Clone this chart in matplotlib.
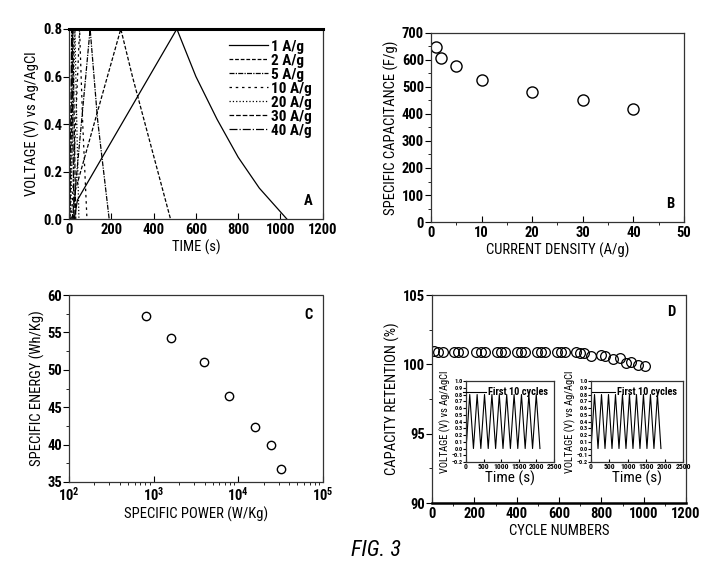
import numpy as np
import matplotlib
matplotlib.use("Agg")
import matplotlib.pyplot as plt

plt.rcParams['font.family'] = ['Roboto Condensed', 'DejaVu Sans']
plt.rcParams['font.weight'] = 'bold'
plt.rcParams['font.size'] = 10.5

# ---- panel A: charge/discharge curves ----
rates = ['1 A/g', '2 A/g', '5 A/g', '10 A/g', '20 A/g', '30 A/g', '40 A/g']
time_a = [
    [25, 40, 510, 600, 700, 800, 900, 1030],
    [20, 30, 245, 300, 360, 420, 480],
    [15, 25, 100, 135, 190],
    [10, 15, 50, 65, 85],
    [6, 9, 28, 37, 47],
    [4, 6, 18, 25, 32],
    [2, 4, 13, 18, 24],
]
volt_a = [
    [0.0, 0.08, 0.8, 0.6, 0.42, 0.26, 0.13, 0.0],
    [0.0, 0.12, 0.8, 0.6, 0.4, 0.2, 0.0],
    [0.0, 0.08, 0.8, 0.42, 0.0],
    [0.0, 0.05, 0.8, 0.4, 0.0],
    [0.0, 0.05, 0.8, 0.4, 0.0],
    [0.0, 0.05, 0.8, 0.4, 0.0],
    [0.0, 0.05, 0.8, 0.4, 0.0],
]
styles_a = ['-', (0, (3, 1.5)), (0, (4, 1, 1, 1)), (0, (2, 3)), ':', '--', '-.']

# ---- panel B: capacitance vs current density ----
current_density = [1, 2, 5, 10, 20, 30, 40]
capacitance = [647, 607, 576, 527, 482, 450, 417]

# ---- panel C: Ragone plot ----
spec_power = [807, 1607, 3908, 7870, 15800, 24300, 32100]
spec_energy = [57.2, 54.2, 51.1, 46.5, 42.4, 39.9, 36.8]

# ---- panel D: cycling ----
cycles = [10, 30, 50, 105, 125, 145, 210, 230, 250, 305, 325, 345,
          400, 420, 440, 495, 515, 535, 590, 610, 630, 680, 700, 720,
          750, 800, 815, 855, 890, 915, 940, 975, 1005]
retention = [100.95, 100.9, 100.9, 100.9, 100.9, 100.9, 100.9, 100.9, 100.9,
             100.9, 100.9, 100.9, 100.9, 100.9, 100.9, 100.9, 100.9, 100.9,
             100.9, 100.9, 100.9, 100.9, 100.85, 100.8,
             100.6, 100.7, 100.6, 100.4, 100.45, 100.1, 100.15, 99.95, 99.9]

inset1_t = [0, 105, 210, 315, 420, 525, 630, 735, 840, 945, 1050,
            1155, 1260, 1365, 1470, 1575, 1680, 1785, 1890, 1995, 2100]
inset1_v = [0.0, 0.8, 0.0, 0.8, 0.0, 0.8, 0.0, 0.8, 0.0, 0.8, 0.0,
            0.8, 0.0, 0.8, 0.0, 0.8, 0.0, 0.8, 0.0, 0.8, 0.0]
inset2_t = [0, 95, 190, 285, 380, 475, 570, 665, 760, 855, 950,
            1045, 1140, 1235, 1330, 1425, 1520, 1615, 1710, 1805, 1900]
inset2_v = [0.0, 0.8, 0.0, 0.8, 0.0, 0.8, 0.0, 0.8, 0.0, 0.8, 0.0,
            0.8, 0.0, 0.8, 0.0, 0.8, 0.0, 0.8, 0.0, 0.8, 0.0]


def frame(ax):
    for s in ax.spines.values():
        s.set_linewidth(0.9)
        s.set_linestyle((0, (2, 1)))
        s.set_color('#333333')
    ax.tick_params(axis='x', direction='in', length=4, width=0.8, pad=3)
    ax.tick_params(axis='y', direction='out', length=4, width=0.8, pad=1)
    ax.tick_params(which='minor', length=2.5, width=0.6)


fig = plt.figure(figsize=(7.17, 5.87), dpi=100)

# A
ax = fig.add_axes([0.0962, 0.6269, 0.354, 0.3237])
for t, v, lab, ls in zip(time_a, volt_a, rates, styles_a):
    ax.plot(t, v, color='black', lw=0.9, ls=ls, label=lab)
frame(ax)
ax.spines['top'].set_linestyle('-')
ax.spines['top'].set_linewidth(2.2)
ax.spines['top'].set_color('black')
ax.set_xlim(0, 1200)
ax.set_ylim(0, 0.8)
ax.set_xticks([0, 200, 400, 600, 800, 1000, 1200])
ax.set_yticks([0.0, 0.2, 0.4, 0.6, 0.8])
ax.set_yticklabels(['0.0', '0.2', '0.4', '0.6', '0.8'])
ax.set_xlabel('TIME (s)', labelpad=2)
ax.set_ylabel('VOLTAGE (V) vs Ag/AgCl', labelpad=2)
ax.legend(loc='upper right', frameon=False, handlelength=2.6, labelspacing=0.0,
          handletextpad=0.2, borderaxespad=0.3, fontsize=11)
ax.text(0.96, 0.06, 'A', transform=ax.transAxes, ha='right', va='bottom')

# B
ax = fig.add_axes([0.601, 0.6218, 0.353, 0.322])
ax.plot(current_density, capacitance, 'o', mfc='none', mec='black', mew=1.0, ms=8)
frame(ax)
ax.set_xlim(0, 50)
ax.set_ylim(0, 700)
ax.set_xticks(range(0, 51, 10))
ax.set_xticks(range(5, 50, 10), minor=True)
ax.set_yticks(range(0, 701, 100))
ax.set_yticks(range(50, 700, 100), minor=True)
ax.set_xlabel('CURRENT DENSITY (A/g)', labelpad=2)
ax.set_ylabel('SPECIFIC CAPACITANCE (F/g)', labelpad=2)
ax.text(0.96, 0.06, 'B', transform=ax.transAxes, ha='right', va='bottom')

# C
ax = fig.add_axes([0.0962, 0.1789, 0.354, 0.3185])
ax.plot(spec_power, spec_energy, 'o', mfc='none', mec='black', mew=1.0, ms=6)
frame(ax)
ax.set_xscale('log')
ax.set_xlim(1e2, 1e5)
ax.set_ylim(35, 60)
ax.set_yticks([35, 40, 45, 50, 55, 60])
ax.set_yticks([37.5, 42.5, 47.5, 52.5, 57.5], minor=True)
ax.set_xlabel('SPECIFIC POWER (W/Kg)', labelpad=2)
ax.set_ylabel('SPECIFIC ENERGY (Wh/Kg)', labelpad=2)
ax.text(0.96, 0.93, 'C', transform=ax.transAxes, ha='right', va='top')

# D
ax = fig.add_axes([0.6025, 0.1431, 0.3543, 0.3543])
ax.plot(cycles, retention, 'o', mfc='none', mec='black', mew=0.9, ms=7)
frame(ax)
ax.spines['bottom'].set_linestyle('-')
ax.spines['bottom'].set_linewidth(1.8)
ax.spines['bottom'].set_color('black')
ax.set_xlim(0, 1200)
ax.set_ylim(90, 105)
ax.set_xticks(range(0, 1201, 200))
ax.set_xticks(range(100, 1200, 200), minor=True)
ax.set_yticks([90, 95, 100, 105])
ax.set_yticks([92.5, 97.5, 102.5], minor=True)
ax.set_xlabel('CYCLE NUMBERS', labelpad=2)
ax.set_ylabel('CAPACITY RETENTION (%)', labelpad=2)
ax.text(0.96, 0.95, 'D', transform=ax.transAxes, ha='right', va='top')

for rect, t, v in [([0.650, 0.2129, 0.1227, 0.138], inset1_t, inset1_v),
                   ([0.8243, 0.2129, 0.1283, 0.138], inset2_t, inset2_v)]:
    ins = fig.add_axes(rect)
    ins.plot(t, v, color='black', lw=0.8, label='First 10 cycles')
    frame(ins)
    ins.set_xlim(0, 2500)
    ins.set_ylim(-0.2, 1.0)
    ins.set_xticks([0, 500, 1000, 1500, 2000, 2500])
    ins.set_yticks([-0.2, -0.1, 0.0, 0.1, 0.2, 0.3, 0.4, 0.5, 0.6, 0.7, 0.8, 0.9, 1.0])
    ins.tick_params(axis='x', labelsize=5.5, length=2, pad=1)
    ins.tick_params(axis='y', labelsize=4.5, length=2, pad=0.5)
    ins.set_xlabel('Time (s)', fontsize=11, labelpad=0)
    ins.set_ylabel('VOLTAGE (V) vs Ag/AgCl', fontsize=7.5, labelpad=0)
    ins.legend(loc='upper right', frameon=False, fontsize=7.5, handlelength=2.2,
               handletextpad=0.2, borderaxespad=0.2)

fig.text(0.525, 0.062, 'FIG. 3', fontsize=16, style='italic', weight='normal',
         ha='center', va='center')

fig.savefig('out.png', dpi=100)
